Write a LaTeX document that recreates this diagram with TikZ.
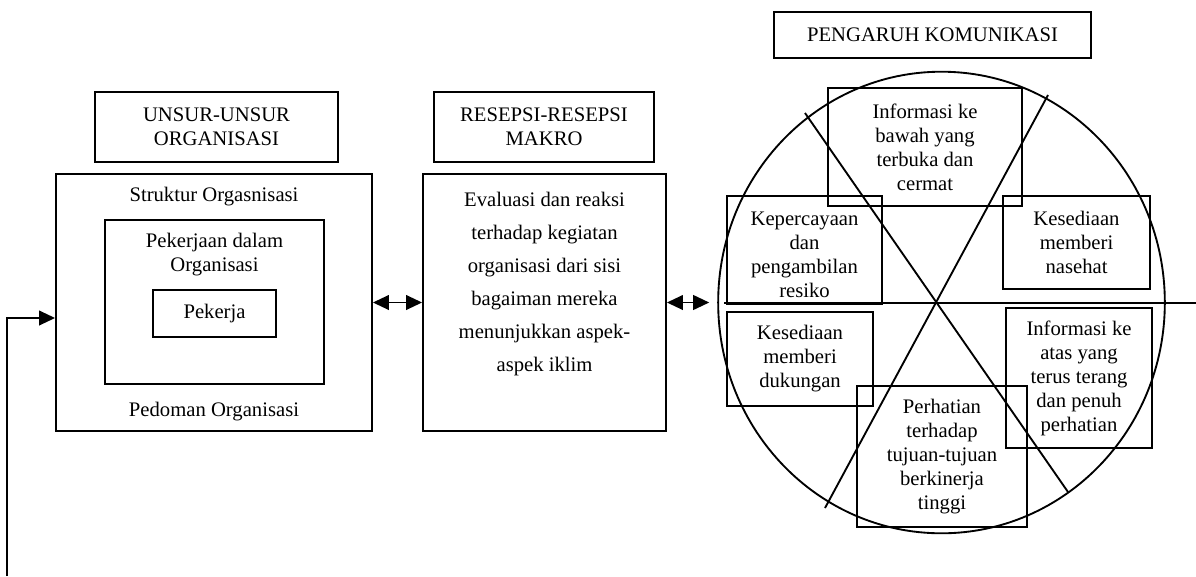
\documentclass[tikz,border=0pt]{standalone}
\usepackage{fontspec}
\setmainfont{Liberation Serif}
\usetikzlibrary{shapes.geometric,arrows.meta,calc}
\newcommand\dfont{\fontsize{15.5}{18}\selectfont}
\newcommand\dfontwide{\fontsize{15.5}{24.75}\selectfont}
\begin{document}
\begin{tikzpicture}[x=0.75pt,y=-0.75pt,
  bx/.style={draw,line width=1.4pt,inner sep=0pt,align=center,font=\dfont},
  txt/.style={inner sep=0pt,align=center,font=\dfont},
  ln/.style={line width=1.4pt},
  arr/.style={line width=1.4pt,-{Triangle[length=12pt,width=11pt]}},
  dbl/.style={line width=1.4pt,{Triangle[length=12pt,width=11pt]}-{Triangle[length=12pt,width=11pt]}}]
\useasboundingbox (0,0) rectangle (1196,576);

% title boxes
\node[bx,minimum width=182.25pt,minimum height=52.5pt] (unsur) at (216.5,127) {UNSUR-UNSUR\\ORGANISASI};
\node[bx,minimum width=165pt,minimum height=52.5pt] (resepsi) at (544,127) {RESEPSI-RESEPSI\\MAKRO};
\node[bx,minimum width=237.75pt,minimum height=34.5pt] (pengaruh) at (932.5,35) {PENGARUH KOMUNIKASI};

% organisation boxes
\node[bx,minimum width=237pt,minimum height=192.75pt] (org) at (214,302.5) {};
\node[bx,minimum width=164.25pt,minimum height=123pt] (job) at (214.5,302) {};
\node[bx,minimum width=92.25pt,minimum height=35.25pt] (pekerja) at (214.5,313.5) {Pekerja};
\node[txt] (struktur) at (214,197) {Struktur Orgasnisasi};
\node[txt] (pekerjaan) at (214.5,255) {Pekerjaan dalam\\Organisasi};
\node[txt] (pedoman) at (214,412) {Pedoman Organisasi};

% evaluation box
\node[bx,minimum width=182.25pt,minimum height=192.75pt] (eval) at (544.5,302.5) {};
\node[txt,font=\dfontwide] (evaltxt) at (544.5,284) {Evaluasi dan reaksi\\terhadap kegiatan\\organisasi dari sisi\\bagaiman mereka\\menunjukkan aspek-\\aspek iklim};

% circle
\node[draw,ln,ellipse,inner sep=0pt,minimum width=335pt,minimum height=346.2pt] (circ) at (941.5,302.5) {};

\coordinate (d1a) at (805,113);
\coordinate (d1b) at (1068,492);
\coordinate (d2a) at (1048,95);
\coordinate (d2b) at (825,508);
\coordinate (hr) at (1196,303);
\draw[ln] (d1a) -- (d1b);
\draw[ln] (d2a) -- (d2b);
\draw[ln] ($(circ.west)+(7,0.5)$) -- (hr);

% boxes in circle
\node[bx,minimum width=145.5pt,minimum height=88.5pt] (bawah) at (925,147) {Informasi ke\\bawah yang\\terbuka dan\\cermat};
\node[bx,minimum width=116.25pt,minimum height=81pt] (percaya) at (804.5,250) {};
\node[txt] (percayatxt) at (804.5,255) {Kepercayaan\\dan\\pengambilan\\resiko};
\node[bx,minimum width=110.25pt,minimum height=69.75pt] (nasehat) at (1076.5,242.5) {Kesediaan\\memberi\\nasehat};
\node[bx,minimum width=109.5pt,minimum height=70.5pt] (dukungan) at (800,359) {Kesediaan\\memberi\\dukungan};
\node[bx,minimum width=109.5pt,minimum height=105pt] (atas) at (1079,378) {Informasi ke\\atas yang\\terus terang\\dan penuh\\perhatian};
\node[bx,minimum width=127.5pt,minimum height=105.75pt] (perhatian) at (942,456.5) {Perhatian\\terhadap\\tujuan-tujuan\\berkinerja\\tinggi};

% connectors
\draw[dbl] (org.east) -- (eval.west);
\draw[dbl,shorten >=6pt] (eval.east) -- (circ.west);
\coordinate (fb) at (7,576);
\draw[arr] (fb) |- ($(org.west)+(0,15.5)$);
\end{tikzpicture}
\end{document}
